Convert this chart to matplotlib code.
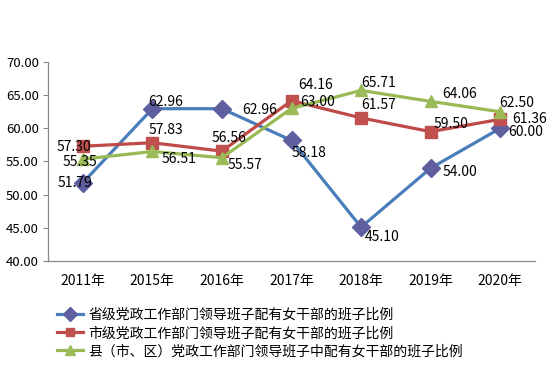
import matplotlib

matplotlib.use("Agg")
import matplotlib.pyplot as plt
import numpy as np

plt.rcParams["font.family"] = ["Noto Sans CJK SC", "DejaVu Sans"]

years = ["2011年", "2015年", "2016年", "2017年", "2018年", "2019年", "2020年"]
province = [51.79, 62.96, 62.96, 58.18, 45.10, 54.00, 60.00]
city = [57.30, 57.83, 56.56, 64.16, 61.57, 59.50, 61.36]
county = [55.35, 56.51, 55.57, 63.00, 65.71, 64.06, 62.50]
names = [
    "省级党政工作部门领导班子配有女干部的班子比例",
    "市级党政工作部门领导班子配有女干部的班子比例",
    "县（市、区）党政工作部门领导班子中配有女干部的班子比例",
]

# データラベルの位置(点からのオフセット, px)
off_province = [(-8, 0), (13, -7), (38, 1), (18, 13), (21, 10), (29, 4), (25, 4)]
off_city = [(-9, 1), (14, -13), (7, -13), (24, -16), (18, -13), (20, -8), (29, 0)]
off_county = [(-3, 3), (27, 8), (23, 7), (26, -6), (18, -7), (29, -7), (16, -9)]

series = [
    (province, "#4A7EBB", "#5F5F9F", "D", 9, off_province),
    (city, "#BE4B48", "#C0504D", "s", 8, off_city),
    (county, "#98B954", "#9BBB59", "^", 9, off_county),
]

fig = plt.figure(figsize=(5.54, 3.68), dpi=100)
ax = fig.add_axes([48 / 554, 1 - 261 / 368, 487 / 554, 199 / 368])
x = np.arange(len(years))

for (vals, lc, mc, mk, ms, offs), name in zip(series, names):
    ax.plot(x, vals, color=lc, lw=2.3, marker=mk, ms=ms,
            mfc=mc, mec=mc, label=name)
    for xi, v, (dx, dy) in zip(x, vals, offs):
        ax.annotate(f"{v:.2f}", (xi, v), xytext=(dx * 0.72, -dy * 0.72),
                    textcoords="offset points", ha="center", va="center",
                    fontsize=10, color="black")

ax.set_xlim(-0.5, len(years) - 0.5)
ax.set_ylim(40, 70)
ax.set_yticks(np.arange(40, 71, 5))
ax.set_yticklabels([f"{t:.2f}" for t in np.arange(40, 71, 5)])
ax.set_xticks(x)
ax.set_xticklabels(years)
ax.tick_params(axis="x", length=0, pad=9, labelsize=10)
ax.tick_params(axis="y", length=3.6, width=0.8, color="#888888", pad=3,
               labelsize=9.5)
for side in ["top", "right"]:
    ax.spines[side].set_visible(False)
for side in ["left", "bottom"]:
    ax.spines[side].set_color("#888888")
    ax.spines[side].set_linewidth(0.9)

fig.legend(loc="upper left", bbox_to_anchor=(57 / 554, 1 - 308 / 368),
           frameon=False, fontsize=10, borderpad=0, borderaxespad=0,
           handlelength=1.9, handletextpad=0.35, labelspacing=0.3,
           markerscale=0.8)

fig.savefig("out.png", dpi=100)
